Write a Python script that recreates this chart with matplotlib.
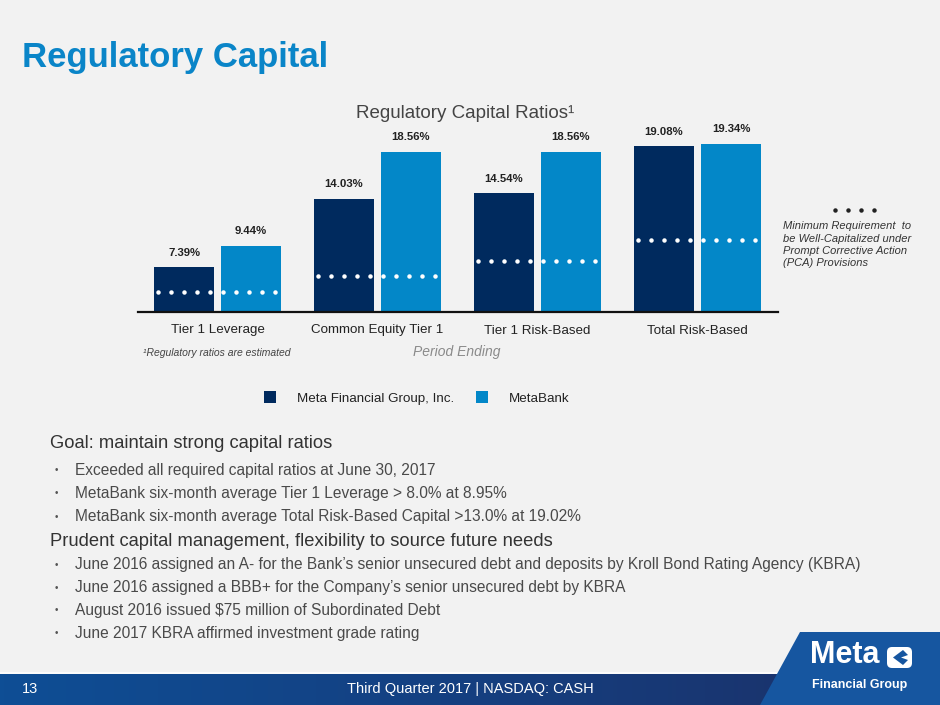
import numpy as np
import matplotlib
matplotlib.use("Agg")
import matplotlib.pyplot as plt
from matplotlib.patches import Polygon, FancyBboxPatch
from matplotlib.colors import LinearSegmentedColormap

plt.rcParams['font.family'] = ['Liberation Sans', 'DejaVu Sans']

# ---------------- data ----------------
categories = ["Tier 1 Leverage", "Common Equity Tier 1", "Tier 1 Risk-Based", "Total Risk-Based"]
series_names = ["Meta Financial Group, Inc.", "MetaBank"]
meta_financial = [7.39, 14.03, 14.54, 19.08]
metabank = [9.44, 18.56, 18.56, 19.34]
min_requirement = [5.0, 6.5, 8.0, 10.0]

goal_header = "Goal: maintain strong capital ratios"
goal_bullets = [
    "Exceeded all required capital ratios at June 30, 2017",
    "MetaBank six-month average Tier 1 Leverage > 8.0% at 8.95%",
    "MetaBank six-month average Total Risk-Based Capital >13.0% at 19.02%",
]
prudent_header = "Prudent capital management, flexibility to source future needs"
prudent_bullets = [
    "June 2016 assigned an A- for the Bank\u2019s senior unsecured debt and deposits by Kroll Bond Rating Agency (KBRA)",
    "June 2016 assigned a BBB+ for the Company\u2019s senior unsecured debt by KBRA",
    "August 2016 issued $75 million of Subordinated Debt",
    "June 2017 KBRA affirmed investment grade rating",
]

# ---------------- style ----------------
BG = "#f2f2f2"
DARK = "#002a5e"
LIGHT = "#0387c8"
TITLE_BLUE = "#0a85c8"

W, H = 940, 705
fig = plt.figure(figsize=(W / 100, H / 100), dpi=100, facecolor=BG)

# decoration axes in pixel coordinates
bg = fig.add_axes([0, 0, 1, 1], zorder=0)
bg.set_xlim(0, W)
bg.set_ylim(H, 0)
bg.axis("off")
bg.set_facecolor(BG)

# ---------------- chart ----------------
ax = fig.add_axes([137.5 / W, (H - 312) / H, 640 / W, (312 - 95) / H], zorder=2)
ax.set_facecolor("none")
x = np.arange(len(categories))
bw = 0.375
off = 0.209
b1 = ax.bar(x - off, meta_financial, bw, color=DARK, label=series_names[0], zorder=2)
b2 = ax.bar(x + off, metabank, bw, color=LIGHT, label=series_names[1], zorder=2)
ymin = 3.07
ax.set_ylim(ymin, ymin + (312 - 95) / 10.35)
ax.set_xlim(-0.5, len(categories) - 0.5)

for bars, vals in ((b1, meta_financial), (b2, metabank)):
    for rect, v in zip(bars, vals):
        ax.annotate(f"{v:.2f}%", (rect.get_x() + rect.get_width() / 2, v),
                    xytext=(0, 7), textcoords="offset points", ha="center", va="bottom",
                    fontsize=8.2, fontweight="bold", color="#222222")

dot_x = np.linspace(-0.374, 0.357, 10)
for xi, m in zip(x, min_requirement):
    ax.plot(xi + dot_x, [m] * len(dot_x), linestyle="none", marker="o",
            markersize=2.2, color="white", zorder=3)

for s in ("top", "right", "left"):
    ax.spines[s].set_visible(False)
ax.spines["bottom"].set_color("#111111")
ax.spines["bottom"].set_linewidth(1.6)
ax.set_yticks([])
ax.set_xticks(x)
ax.set_xticklabels(categories, fontsize=9.6, color="#222222")
ax.tick_params(axis="x", length=0, pad=9)

ax.legend(handles=[b1, b2], loc="center", bbox_to_anchor=(0.5 + (417 - 457.5) / 640, (312 - 398) / 217),
          ncol=2, frameon=False, fontsize=9.6, handlelength=0.9, handleheight=0.95,
          handletextpad=1.6, columnspacing=1.6, labelcolor="#222222")

# chart titles / notes
bg.text(465, 113, "Regulatory Capital Ratios\u00b9", ha="center", va="center", fontsize=13.5, color="#444444")
bg.text(143, 353, "\u00b9Regulatory ratios are estimated", ha="left", va="center", fontsize=7.5,
        style="italic", color="#444444")
bg.text(457, 352, "Period Ending", ha="center", va="center", fontsize=10, style="italic", color="#8a8a8a")

# side legend for dotted line
bg.plot([835, 848, 861, 874], [210] * 4, linestyle="none", marker="o", markersize=2.2, color="#222222")
for i, line in enumerate(["Minimum Requirement  to", "be Well-Capitalized under",
                          "Prompt Corrective Action", "(PCA) Provisions"]):
    bg.text(783, 226 + i * 12.5, line, ha="left", va="center", fontsize=8, style="italic", color="#333333")

# page title
bg.text(22, 57, "Regulatory Capital", ha="left", va="center", fontsize=25, fontweight="bold",
        color=TITLE_BLUE)

# bullet text
def header(y, s):
    bg.text(50, y, s, ha="left", va="center", fontsize=13.2, color="#333333")

def bullet(y, s):
    bg.text(56, y, "\u2022", ha="center", va="center", fontsize=7, color="#555555")
    bg.text(75, y, s, ha="left", va="center", fontsize=11.2, color="#4a4a4a")

header(444, goal_header)
for i, s in enumerate(goal_bullets):
    bullet(470 + i * 23.3, s)
header(541, prudent_header)
for i, s in enumerate(prudent_bullets):
    bullet(565 + i * 22.7, s)

# footer
cmap = LinearSegmentedColormap.from_list("foot", ["#0e4e95", "#153f80", "#1c2f66"])
grad = np.linspace(0, 1, 256).reshape(1, -1)
bg.imshow(grad, extent=[0, W, H, 674], cmap=cmap, aspect="auto", zorder=1)
bg.plot([0, W], [673, 673], color="white", lw=1.2, zorder=2)
bg.add_patch(Polygon([(760, H), (800, 632), (W, 632), (W, H)], closed=True,
                     facecolor="#1656a0", edgecolor="none", zorder=3))
bg.set_xlim(0, W)
bg.set_ylim(H, 0)
bg.text(22, 689, "13", ha="left", va="center", fontsize=10.5, color="white", zorder=4)
bg.text(470, 689, "Third Quarter 2017 | NASDAQ: CASH", ha="center", va="center", fontsize=10.5,
        color="white", zorder=4)

# logo
bg.text(810, 655, "Meta", ha="left", va="center", fontsize=22, fontweight="bold", color="white", zorder=4)
bg.add_patch(FancyBboxPatch((887, 647), 25, 21, boxstyle="round,pad=0,rounding_size=5",
                            facecolor="white", edgecolor="none", zorder=4))
bg.add_patch(Polygon([(893, 657.5), (903, 650), (908, 655), (901, 657.5), (908, 660), (903, 665)],
                     closed=True, facecolor="#1656a0", edgecolor="none", zorder=5))
bg.text(812, 685, "Financial Group", ha="left", va="center", fontsize=9, fontweight="bold",
        color="white", zorder=4)

fig.savefig("out.png", dpi=100, facecolor=BG)
